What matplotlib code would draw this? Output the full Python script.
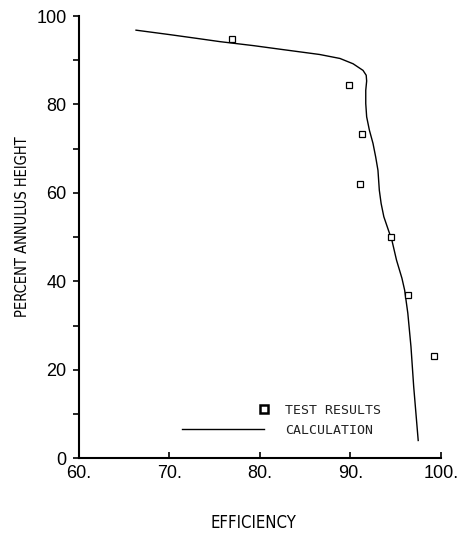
import numpy as np
import matplotlib
matplotlib.use('Agg')
import matplotlib.pyplot as plt
from matplotlib.legend_handler import HandlerLine2D

# test results (open squares)
eff_test = [76.95, 89.9, 91.25, 91.1, 94.5, 96.4, 99.2]
height_test = [94.8, 84.4, 73.4, 61.9, 50.0, 36.9, 23.0]

# calculation curve, read from top to bottom
eff_calc = [66.3, 70.0, 73.0, 75.6, 79.3, 82.2, 84.4, 86.6, 88.85, 90.3,
            91.4, 91.75, 91.8, 91.7, 91.7, 91.8, 92.1, 92.5, 92.8, 93.05,
            93.2, 93.4, 93.7, 94.2, 94.6, 95.1, 95.7, 96.0, 96.35, 96.7,
            97.0, 97.5]
height_calc = [96.8, 95.8, 94.95, 94.2, 93.3, 92.5, 91.9, 91.3, 90.4, 89.2,
               87.7, 86.6, 85.3, 83.2, 80.2, 77.2, 74.2, 71.2, 68.1, 65.1,
               60.6, 57.6, 54.6, 51.6, 49.2, 44.8, 40.7, 38.0, 32.8, 25.2,
               16.2, 4.0]

xticks = [60, 70, 80, 90, 100]
xticklabels = ['60.', '70.', '80.', '90.', '100.']
yticks = [0, 20, 40, 60, 80, 100]
yminor = [10, 30, 50, 70, 90]


class MarkerAtEnd(HandlerLine2D):
    # put the single legend marker at the right end of the handle box
    def get_xdata(self, legend, xdescent, ydescent, width, height, fontsize):
        end = np.array([-xdescent + width] * 2)
        return end, end[:1]


fig = plt.figure(figsize=(4.65, 5.34), dpi=100)
ax = fig.add_axes([0.170, 0.142, 0.778, 0.828])

calc, = ax.plot(eff_calc, height_calc, color='k', lw=1.0, solid_joinstyle='round',
                label='CALCULATION')
test, = ax.plot(eff_test, height_test, ls='none', marker='s', ms=4.2, mfc='white',
                mec='k', mew=0.9, label='TEST RESULTS')

ax.set_xlim(60, 100)
ax.set_ylim(0, 100)
ax.spines[['top', 'right']].set_visible(False)
ax.spines[['left', 'bottom']].set_linewidth(1.5)

ax.set_xticks(xticks, xticklabels, family='Liberation Sans', fontsize=13)
ax.set_yticks(yticks, [str(v) for v in yticks], family='Liberation Sans', fontsize=13)
ax.set_yticks(yminor, minor=True)
ax.tick_params(axis='x', direction='in', length=4, width=1.2, pad=5)
ax.tick_params(axis='y', which='both', direction='out', length=4, width=1.2, pad=5)

ax.set_xlabel('EFFICIENCY', family='DejaVu Sans', stretch='condensed', fontsize=12,
              va='center')
ax.set_ylabel('PERCENT ANNULUS HEIGHT', family='DejaVu Sans', stretch='condensed',
              fontsize=10.5, va='center')
ax.xaxis.set_label_coords(0.483, -0.146)
ax.yaxis.set_label_coords(-0.156, 0.523)

leg_marker = plt.Line2D([], [], ls='none', marker='s', ms=5.5, mfc='white',
                        mec='k', mew=1.8)
ax.legend([leg_marker, calc], ['TEST RESULTS', 'CALCULATION'],
          handler_map={leg_marker: MarkerAtEnd(numpoints=1)},
          loc='lower left', bbox_to_anchor=(0.285, 0.049), frameon=False,
          borderpad=0, borderaxespad=0, handlelength=6.2, handletextpad=1.6,
          labelspacing=0.5, prop={'family': 'DejaVu Sans Mono', 'size': 9.5},
          labelcolor='#222222')

fig.savefig('out.png', dpi=100)
